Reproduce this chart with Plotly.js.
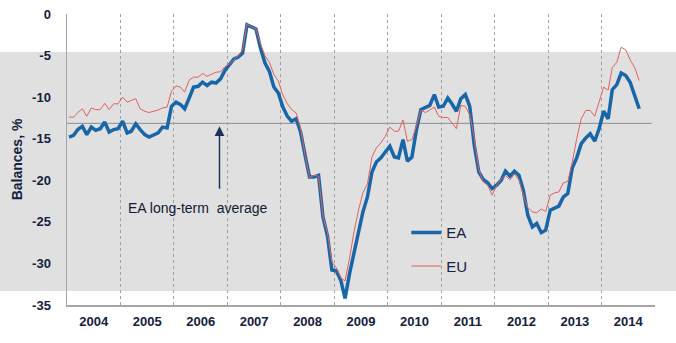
<!DOCTYPE html>
<html>
<head>
<meta charset="utf-8">
<script src="https://cdn.plot.ly/plotly-3.0.1.min.js"></script>
<style>
  html, body { margin: 0; padding: 0; background: #ffffff; }
  #chart { width: 676px; height: 343px; }
</style>
</head>
<body>
<div id="chart"></div>
<script>
// Monthly series, January 2004 to September 2014 (balances, %)
const startYear = 2004;
const seriesNames = ["EA", "EU"];

const eaValues = [
  -14.8, -14.6, -13.9, -13.5, -14.5, -13.6, -14.0, -13.8, -13.0, -14.2, -13.9, -13.8,
  -12.9, -14.3, -14.1, -13.2, -13.9, -14.5, -14.8, -14.6, -14.3, -13.6, -13.7, -11.1,
  -10.6, -10.9, -11.4, -10.1, -8.8, -8.7, -8.2, -8.6, -8.2, -8.3, -7.8, -6.8,
  -6.1, -5.4, -5.2, -4.7, -1.3, -1.6, -1.8, -4.1, -5.9, -6.9, -8.8, -9.5,
  -11.2, -12.3, -12.9, -12.6, -14.2, -17.0, -19.6, -19.6, -19.4, -24.4, -26.7, -30.8,
  -30.9, -32.1, -34.2, -31.2, -28.7, -26.0, -23.8, -22.0, -19.0, -17.8, -17.3, -16.6,
  -15.9, -17.2, -17.3, -15.1, -17.7, -17.2, -14.0, -11.5, -11.3, -11.0, -9.7, -11.2,
  -11.1, -10.1, -10.8, -11.7, -10.2, -9.7, -11.1, -15.8, -19.0, -19.9, -20.3, -21.0,
  -20.6, -20.0, -18.9, -19.5, -18.9, -19.4, -21.2, -24.2, -25.6, -25.2, -26.3, -26.0,
  -23.6, -23.3, -23.1, -22.0, -21.6, -18.5, -17.3, -15.6, -14.9, -14.4, -15.3, -13.8,
  -11.7, -12.6, -9.1, -8.5, -7.1, -7.4, -8.2, -9.8, -11.4
];

const euValues = [
  -12.4, -12.4, -11.85, -11.4, -12.3, -11.3, -11.5, -11.5, -10.75, -11.5, -10.8, -10.8,
  -10.0, -10.6, -10.4, -10.2, -11.4, -11.7, -11.85, -11.7, -11.55, -11.3, -11.2, -9.3,
  -8.65, -8.8, -9.4, -7.95, -7.6, -7.6, -7.15, -7.5, -7.2, -7.0, -6.95, -6.35,
  -6.0, -5.45, -5.05, -4.3, -1.2, -1.55, -1.8, -3.6, -5.05, -5.8, -7.3, -8.05,
  -9.75, -10.8, -11.5, -11.9, -13.7, -17.0, -19.7, -19.4, -19.5, -24.3, -26.3, -29.8,
  -30.55, -31.75, -32.1, -29.35, -26.2, -23.6, -21.5, -20.45, -17.2, -16.1, -15.5, -14.7,
  -13.6, -14.1, -14.1, -12.75, -15.3, -15.1, -13.5, -11.55, -11.85, -11.55, -11.2, -12.3,
  -12.45, -12.45, -13.05, -13.8, -11.0, -11.1, -12.1, -14.9, -18.75, -20.2, -20.6, -21.8,
  -20.6, -19.85, -19.4, -19.95, -19.25, -19.9, -21.8, -23.3, -23.8, -23.9, -23.45, -23.75,
  -21.8, -21.5, -21.4, -20.3, -20.15, -17.8, -15.0, -12.6, -11.6, -11.6, -12.3, -10.7,
  -8.8, -9.15, -6.45, -5.8, -4.0, -4.3, -5.5, -6.45, -8.0
];

const eaLongTermAverage = -13.15;
const yTickValues = [0, -5, -10, -15, -20, -25, -30, -35];
const annotationText = "EA long-term  average";
const yTitle = "Balances, %";

// month dates (mid-month) for each observation
const dates = eaValues.map(function (_, i) {
  const y = startYear + Math.floor(i / 12);
  const m = (i % 12) + 1;
  return y + "-" + (m < 10 ? "0" + m : m) + "-15";
});

const FONT = "'Liberation Sans', Arial, sans-serif";
const NAVY = "#14213f";

const traces = [
  {
    x: dates, y: eaValues, name: seriesNames[0], type: "scatter", mode: "lines",
    line: { color: "#1866a8", width: 3.5 }, legendgroup: "a"
  },
  {
    x: dates, y: euValues, name: seriesNames[1], type: "scatter", mode: "lines",
    line: { color: "#e2615c", width: 1 }, legendgroup: "b"
  }
];

const layout = {
  width: 676, height: 343,
  margin: { l: 67, r: 21, t: 14, b: 38 },
  paper_bgcolor: "#ffffff",
  plot_bgcolor: "rgba(0,0,0,0)",
  font: { family: FONT, color: NAVY },
  showlegend: true,
  legend: {
    x: 0.577, y: 0.305, xanchor: "left", yanchor: "top",
    bgcolor: "rgba(0,0,0,0)", traceorder: "grouped", tracegroupgap: 11,
    font: { family: FONT, size: 15, color: NAVY },
    itemwidth: 30
  },
  xaxis: {
    type: "date",
    range: ["2004-01-01", "2015-01-01"],
    tick0: "2004-01-01", dtick: "M12", tickformat: "%Y",
    ticklabelmode: "period",
    showgrid: true, gridcolor: "#a0a0a0", griddash: "3px,3px", gridwidth: 1,
    showline: true, linecolor: "#a6a6a6", linewidth: 1.5,
    ticks: "", zeroline: false, ticklabelstandoff: 4,
    tickfont: { family: FONT, size: 13, color: NAVY, weight: "bold" },
    fixedrange: true
  },
  yaxis: {
    range: [-35, 0],
    tickvals: yTickValues,
    ticktext: yTickValues.map(String),
    showgrid: false, zeroline: false,
    showline: true, linecolor: "#a6a6a6", linewidth: 1.5,
    ticks: "", ticklabelstandoff: 12,
    tickfont: { family: FONT, size: 13, color: NAVY, weight: "bold" },
    title: { text: yTitle, font: { family: FONT, size: 14, color: NAVY, weight: "bold" }, standoff: 6 },
    fixedrange: true
  },
  shapes: [
    {
      type: "rect", xref: "paper", yref: "paper", layer: "below",
      x0: -67 / 588, x1: 609 / 588, y0: 14 / 291, y1: 253 / 291,
      fillcolor: "#e0e0e0", line: { width: 0 }
    },
    {
      type: "line", xref: "paper", yref: "y", layer: "below",
      x0: 0, x1: 0.994, y0: eaLongTermAverage, y1: eaLongTermAverage,
      line: { color: "#8c8c8c", width: 1 }
    }
  ],
  annotations: [
    {
      x: "2006-11-08", y: -13.5, xref: "x", yref: "y",
      ax: "2006-11-08", ay: -21.2, axref: "x", ayref: "y",
      showarrow: true, arrowhead: 2, arrowsize: 1.3, arrowwidth: 1.5,
      arrowcolor: "#1f3358", text: ""
    },
    {
      x: "2006-06-15", y: -23.3, xref: "x", yref: "y",
      showarrow: false, text: annotationText,
      font: { family: FONT, size: 14, color: "#101a33" }
    }
  ]
};

Plotly.newPlot("chart", traces, layout, { displayModeBar: false, staticPlot: true });
</script>
</body>
</html>
